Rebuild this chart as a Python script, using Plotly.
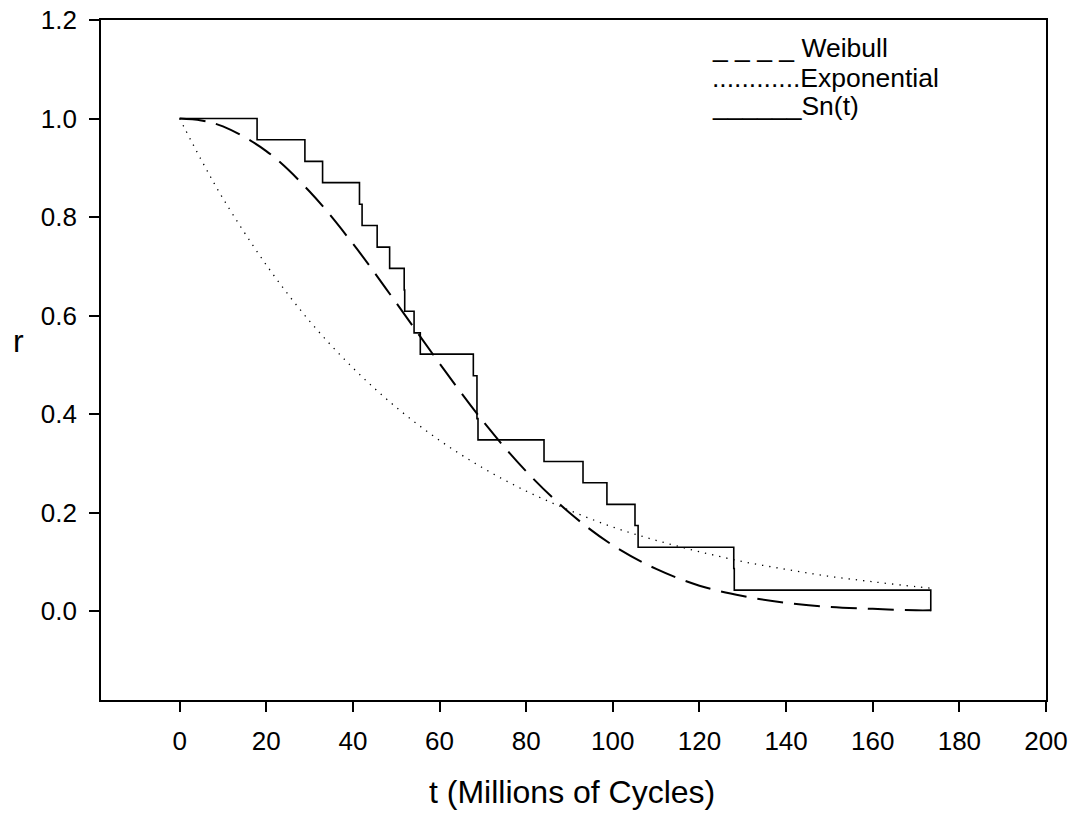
import plotly.graph_objects as go

# Empirical survival function Sn(t): failure times (millions of cycles) and step values
sn_t = [0.0, 17.88, 28.92, 33.00, 41.52, 42.12, 45.60, 48.48, 51.84, 51.96, 54.12,
        55.56, 67.80, 68.64, 68.64, 68.88, 84.12, 93.12, 98.64, 105.12, 105.84,
        127.92, 128.04, 173.40]
sn_r = [1.000, 0.957, 0.913, 0.870, 0.826, 0.783, 0.739, 0.696, 0.652, 0.609, 0.565,
        0.522, 0.478, 0.435, 0.391, 0.348, 0.304, 0.261, 0.217, 0.174, 0.130,
        0.087, 0.043, 0.000]

# Fitted curves, values
curve_t = [0, 5, 10, 20, 30, 40, 50, 60, 70, 80, 90, 100, 110, 120, 130, 140,
           150, 160, 170, 173.4]
weibull_r = [1.000, 0.996, 0.984, 0.934, 0.852, 0.746, 0.626, 0.503, 0.386, 0.284,
             0.200, 0.134, 0.086, 0.052, 0.031, 0.017, 0.009, 0.005, 0.002, 0.002]
expo_r = [1.000, 0.916, 0.838, 0.703, 0.589, 0.494, 0.414, 0.347, 0.291, 0.244,
          0.205, 0.171, 0.144, 0.121, 0.101, 0.085, 0.071, 0.060, 0.050, 0.047]

x_ticks = [0, 20, 40, 60, 80, 100, 120, 140, 160, 180, 200]
y_ticks = [0.0, 0.2, 0.4, 0.6, 0.8, 1.0, 1.2]

legend_texts = ["_ _ _ _ Weibull", "............Exponential", "______Sn(t)"]

FONT = "Liberation Sans, Arial, sans-serif"

fig = go.Figure()
fig.add_trace(go.Scatter(x=curve_t, y=expo_r, mode="lines", line_shape="spline",
                         line=dict(color="black", width=1.3, dash="1.3px,6px"),
                         showlegend=False, hoverinfo="skip"))
fig.add_trace(go.Scatter(x=curve_t, y=weibull_r, mode="lines", line_shape="spline",
                         line=dict(color="black", width=2, dash="26px,11px"),
                         showlegend=False, hoverinfo="skip"))
fig.add_trace(go.Scatter(x=sn_t, y=sn_r, mode="lines", line_shape="hv",
                         line=dict(color="black", width=1.6),
                         showlegend=False, hoverinfo="skip"))

# Legend drawn as text, like the original
L, R, T, B = 101, 1046, 20, 700
W, H = R - L, B - T
def px(xp):
    return (xp - L) / W
def py(yp):
    return (B - yp) / H

legend_y = [48, 78, 106]
for txt, yy in zip(legend_texts, legend_y):
    fig.add_annotation(x=px(710), y=py(yy), xref="paper", yref="paper", text=txt,
                       showarrow=False, xanchor="left", yanchor="middle",
                       font=dict(family=FONT, size=26.5, color="black"))

fig.add_annotation(x=px(18), y=py(341), xref="paper", yref="paper", text="r",
                   showarrow=False, xanchor="center", yanchor="middle",
                   font=dict(family=FONT, size=32, color="black"))
fig.add_annotation(x=px(572), y=py(792), xref="paper", yref="paper",
                   text="t (Millions of Cycles)",
                   showarrow=False, xanchor="center", yanchor="middle",
                   font=dict(family=FONT, size=32, color="black"))

axis_common = dict(showline=True, linecolor="black", linewidth=1.6, mirror=True,
                   ticks="outside", ticklen=10, tickwidth=1.6, tickcolor="black",
                   showgrid=False, zeroline=False,
                   tickfont=dict(family=FONT, size=26, color="black"))

fig.update_xaxes(range=[-18.15, 200], tickmode="array", tickvals=x_ticks,
                 ticktext=[str(v) for v in x_ticks], ticklabelstandoff=7, **axis_common)
fig.update_yaxes(range=[-0.18, 1.2], tickmode="array", tickvals=y_ticks,
                 ticktext=[f"{v:.1f}" for v in y_ticks], ticklabelstandoff=7, **axis_common)

fig.update_layout(width=1075, height=818, plot_bgcolor="white", paper_bgcolor="white",
                  margin=dict(l=L, r=1075 - R, t=T, b=818 - B, autoexpand=False),
                  font=dict(family=FONT, color="black"), showlegend=False)

fig.write_html("out.html")
